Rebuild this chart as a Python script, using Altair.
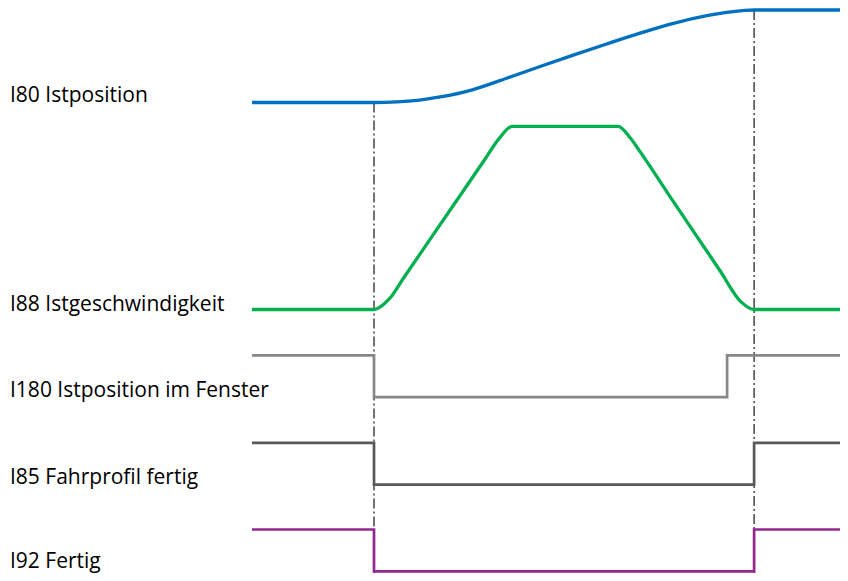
import altair as alt
import pandas as pd

# ---- data (time in % of the positioning move, values normalised 0..1) ----
signals = ["I80 Istposition", "I88 Istgeschwindigkeit",
           "I180 Istposition im Fenster", "I85 Fahrprofil fertig", "I92 Fertig"]

T_START, T_END = -32.1, 122.6

pos_t = [T_START, 0, 6, 12, 17.4, 26.1, 34.9, 43.7, 52.4, 61.2, 70.0, 78.8, 87.6, 91.1, 94.5, 97.6, 100, T_END]
pos_v = [0, 0, 0.006, 0.026, 0.060, 0.140, 0.262, 0.389, 0.512, 0.633, 0.750, 0.856, 0.938, 0.963, 0.982, 0.995, 1, 1]

vel_t = [T_START, 0, 4, 8, 15, 22, 29, 33, 36.3, 64.2, 67.5, 70, 77, 84, 91, 96.5, 100, T_END]
vel_v = [0, 0, 0.058, 0.179, 0.391, 0.603, 0.815, 0.936, 1, 1, 0.935, 0.862, 0.644, 0.428, 0.213, 0.043, 0, 0]

win_t = [T_START, 0, 92.9, T_END]
win_v = [1, 0, 1, 1]

prof_t = [T_START, 0, 100, T_END]
prof_v = [1, 0, 1, 1]

done_t = [T_START, 0, 100, T_END]
done_v = [1, 0, 1, 1]

marker_t = [0, 100]

# ---- layout (lane base = low level, amplitude), pixel units of the plot ----
lane_base = [94.5, 301.5, 389.1, 476.6, 563.3]
lane_amp = [92.5, 183.1, 41.8, 41.8, 41.8]
label_y = [94.3, 302.7, 389.0, 476.0, 560.0]
colors = ["#0070C0", "#00B050", "#878787", "#595959", "#93278F"]
widths = [3.3, 3.3, 2.7, 2.7, 2.7]

series = [(pos_t, pos_v), (vel_t, vel_v), (win_t, win_v), (prof_t, prof_v), (done_t, done_v)]

W, H = 832, 565
xs = alt.Scale(domain=[T_START, T_END], range=[244, W])
ys = alt.Scale(domain=[0, H], range=[0, H])

layers = []

# marker rules (dash-dot)
rules = pd.DataFrame({
    "t": marker_t,
    "y1": [lane_base[0] - lane_amp[0] * 0, lane_base[0] - lane_amp[0] * 1],
    "y2": [H, H],
})
layers.append(
    alt.Chart(rules).mark_rule(color="#000000", strokeWidth=1.1, strokeDash=[10, 3, 2, 3]).encode(
        x=alt.X("t:Q", scale=xs, axis=None),
        y=alt.Y("y1:Q", scale=ys, axis=None),
        y2="y2:Q",
    )
)

for i, (name, (ts, vs)) in enumerate(zip(signals, series)):
    df = pd.DataFrame({"t": ts, "v": vs})
    df["y"] = lane_base[i] - lane_amp[i] * df["v"]
    interp = "monotone" if i < 2 else "step-after"
    layers.append(
        alt.Chart(df).mark_line(color=colors[i], strokeWidth=widths[i], interpolate=interp,
                                strokeCap="butt", strokeJoin="miter").encode(
            x=alt.X("t:Q", scale=xs, axis=None),
            y=alt.Y("y:Q", scale=ys, axis=None),
            order="t:Q",
        )
    )

labels = pd.DataFrame({"label": signals, "y": label_y})
layers.append(
    alt.Chart(labels).mark_text(align="left", baseline="alphabetic", fontSize=21,
                                font="Open Sans", color="#000000").encode(
        x=alt.value(2),
        y=alt.Y("y:Q", scale=ys, axis=None),
        text="label:N",
    )
)

chart = alt.layer(*layers).properties(
    width=W, height=H, padding=0, autosize=alt.AutoSizeParams(type="none")
).configure_view(stroke=None)

chart.save("out.html", embed_options={"renderer": "svg", "actions": False})
